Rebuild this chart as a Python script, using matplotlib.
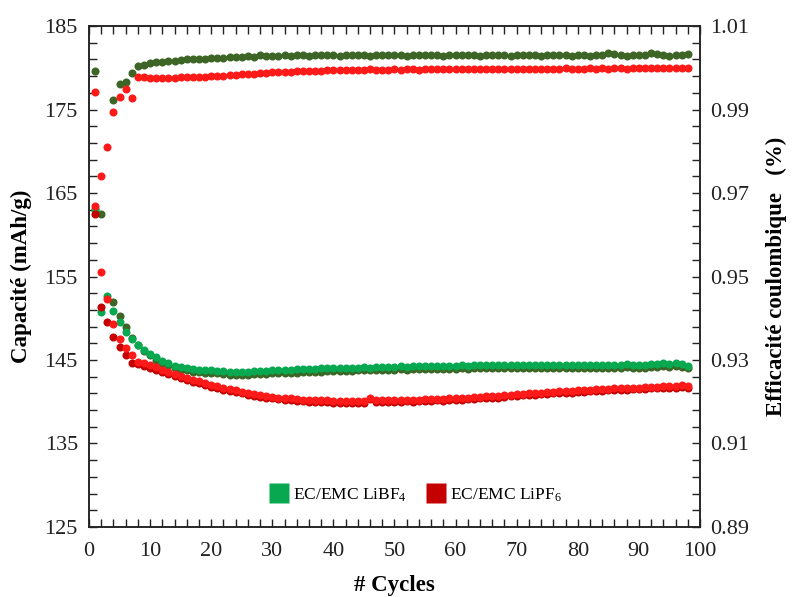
import numpy as np
import matplotlib
matplotlib.use("Agg")
import matplotlib.pyplot as plt
from matplotlib.lines import Line2D
from matplotlib.ticker import MultipleLocator, FixedLocator

plt.rcParams["font.family"] = ["Liberation Serif", "DejaVu Serif"]
plt.rcParams["mathtext.fontset"] = "stix"

nan = np.nan
cycles = list(range(1, 99))

# LiBF4 - capacity (discharge, green) and second capacity series (olive)
cap_bf4 = [
    163.0, 150.7, 152.7, 150.9, 149.5, 148.3, 147.5, 146.8, 146.2, 145.7,
    145.3, 144.9, 144.6, 144.3, 144.15, 144.05, 143.9, 143.85, 143.8, 143.75,
    143.7, 143.65, 143.6, 143.6, 143.55, 143.6, 143.65, 143.7, 143.7, 143.75,
    143.8, 143.8, 143.85, 143.9, 143.9, 143.95, 143.95, 144.0, 144.0, 144.05,
    144.0, 144.05, 144.1, 144.1, 144.15, 144.1, 144.15, 144.2, 144.2, 144.2,
    144.25, 144.2, 144.25, 144.3, 144.25, 144.3, 144.3, 144.25, 144.3, 144.3,
    144.35, 144.3, 144.35, 144.4, 144.35, 144.4, 144.4, 144.35, 144.4, 144.4,
    144.4, 144.45, 144.4, 144.35, 144.4, 144.45, 144.4, 144.4, 144.45, 144.4,
    144.35, 144.4, 144.45, 144.4, 144.35, 144.4, 144.45, 144.5, 144.45, 144.4,
    144.45, 144.5, 144.55, 144.6, 144.55, 144.6, 144.5, 144.3,
]
cap2_bf4 = [
    163.1, 162.5, nan, 152.0, 150.3, 148.9, 147.6, 146.75, 146.1, 145.55,
    145.0, 144.6, 144.35, 144.05, 143.85, 143.75, 143.6, 143.55, 143.5, 143.45,
    143.4, 143.3, 143.25, 143.25, 143.2, 143.2, 143.3, 143.3, 143.35, 143.4,
    143.45, 143.4, 143.5, 143.5, 143.55, 143.55, 143.6, 143.6, 143.65, 143.7,
    143.65, 143.7, 143.7, 143.75, 143.8, 143.75, 143.8, 143.8, 143.85, 143.85,
    143.9, 143.85, 143.9, 143.9, 143.9, 143.95, 143.95, 143.9, 143.95, 143.95,
    144.0, 143.95, 144.0, 144.0, 144.0, 144.05, 144.0, 144.0, 144.05, 144.05,
    144.05, 144.1, 144.05, 144.0, 144.05, 144.1, 144.05, 144.05, 144.1, 144.05,
    144.0, 144.05, 144.1, 144.05, 144.0, 144.05, 144.1, 144.15, 144.1, 144.05,
    144.1, 144.15, 144.2, 144.25, 144.2, 144.25, 144.15, 144.0,
]
eff_bf4 = [
    0.9993, nan, nan, 0.9924, 0.9962, 0.9967, 0.9988, 1.0004, 1.0007, 1.0011,
    1.0014, 1.0014, 1.0017, 1.0017, 1.0019, 1.0020, 1.0022, 1.0021, 1.0022, 1.0023,
    1.0024, 1.0024, 1.0025, 1.0025, 1.0026, 1.0028, 1.0027, 1.0030, 1.0029, 1.0028,
    1.0029, 1.0030, 1.0029, 1.0030, 1.0030, 1.0029, 1.0030, 1.0031, 1.0030, 1.0030,
    1.0029, 1.0030, 1.0031, 1.0030, 1.0030, 1.0029, 1.0030, 1.0030, 1.0031, 1.0030,
    1.0030, 1.0029, 1.0030, 1.0030, 1.0031, 1.0030, 1.0030, 1.0029, 1.0030, 1.0030,
    1.0031, 1.0030, 1.0030, 1.0029, 1.0030, 1.0031, 1.0030, 1.0030, 1.0029, 1.0030,
    1.0030, 1.0031, 1.0030, 1.0029, 1.0030, 1.0030, 1.0031, 1.0030, 1.0029, 1.0030,
    1.0030, 1.0029, 1.0030, 1.0031, 1.0036, 1.0032, 1.0030, 1.0029, 1.0030, 1.0031,
    1.0030, 1.0036, 1.0032, 1.0030, 1.0029, 1.0030, 1.0031, 1.0032,
]

# LiPF6 - capacity (discharge, dark red) and second capacity series (bright red)
cap_pf6 = [
    162.5, 151.4, 149.5, 147.7, 146.6, 145.6, 144.6, 144.5, 144.3, 144.1,
    143.85, 143.55, 143.3, 143.05, 142.8, 142.6, 142.4, 142.2, 142.0, 141.8,
    141.6, 141.45, 141.3, 141.15, 141.0, 140.85, 140.7, 140.6, 140.5, 140.4,
    140.3, 140.25, 140.2, 140.1, 140.05, 140.0, 140.0, 139.95, 139.95, 139.9,
    139.9, 139.85, 139.9, 139.85, 139.9, 140.3, 140.0, 139.95, 140.0, 140.0,
    140.0, 140.05, 140.0, 140.05, 140.1, 140.1, 140.15, 140.1, 140.2, 140.2,
    140.25, 140.3, 140.35, 140.4, 140.45, 140.5, 140.5, 140.6, 140.65, 140.7,
    140.75, 140.8, 140.85, 140.9, 140.95, 141.0, 141.05, 141.1, 141.1, 141.15,
    141.2, 141.25, 141.3, 141.3, 141.35, 141.4, 141.4, 141.45, 141.5, 141.5,
    141.55, 141.6, 141.6, 141.65, 141.7, 141.7, 141.75, 141.7,
]
cap2_pf6 = [
    163.4, 155.5, 152.3, 149.3, 147.5, 146.4, 145.6, 144.8, 144.6, 144.4,
    144.15, 143.85, 143.6, 143.35, 143.1, 142.9, 142.65, 142.45, 142.25, 142.05,
    141.85, 141.7, 141.55, 141.4, 141.2, 141.05, 140.9, 140.8, 140.7, 140.6,
    140.5, 140.45, 140.4, 140.3, 140.25, 140.2, 140.2, 140.15, 140.15, 140.1,
    140.1, 140.05, 140.1, 140.05, 140.1, 140.5, 140.2, 140.15, 140.2, 140.2,
    140.2, 140.25, 140.2, 140.25, 140.3, 140.3, 140.35, 140.3, 140.4, 140.4,
    140.45, 140.5, 140.55, 140.6, 140.65, 140.7, 140.7, 140.8, 140.85, 140.9,
    140.95, 141.0, 141.05, 141.1, 141.15, 141.2, 141.25, 141.3, 141.3, 141.35,
    141.4, 141.45, 141.5, 141.5, 141.55, 141.6, 141.6, 141.65, 141.7, 141.7,
    141.75, 141.8, 141.8, 141.85, 141.9, 141.9, 141.95, 141.9,
]
eff_pf6 = [
    0.9943, 0.9740, 0.9810, 0.9895, 0.9929, 0.9948, 0.9927, 0.9977, 0.9977, 0.9976,
    0.9975, 0.9975, 0.9976, 0.9976, 0.9977, 0.9977, 0.9978, 0.9978, 0.9979, 0.9980,
    0.9980, 0.9981, 0.9982, 0.9983, 0.9984, 0.9985, 0.9986, 0.9987, 0.9988, 0.9989,
    0.9990, 0.9991, 0.9991, 0.9992, 0.9992, 0.9993, 0.9993, 0.9993, 0.9994, 0.9994,
    0.9994, 0.9995, 0.9994, 0.9995, 0.9995, 0.9997, 0.9995, 0.9995, 0.9995, 0.9996,
    0.9995, 0.9996, 0.9996, 0.9995, 0.9996, 0.9996, 0.9996, 0.9997, 0.9996, 0.9996,
    0.9997, 0.9996, 0.9997, 0.9997, 0.9997, 0.9998, 0.9997, 0.9997, 0.9998, 0.9997,
    0.9998, 0.9997, 0.9998, 0.9998, 0.9997, 0.9998, 0.9998, 0.9999, 0.9998, 0.9998,
    0.9998, 0.9999, 0.9998, 0.9999, 0.9998, 0.9999, 0.9999, 0.9998, 0.9999, 0.9999,
    0.9999, 0.9999, 1.0000, 0.9999, 0.9999, 1.0000, 0.9999, 1.0000,
]

legend_labels = [r"EC/EMC LiBF$_\mathregular{4}$", r"EC/EMC LiPF$_\mathregular{6}$"]

cap_ticks = [125, 135, 145, 155, 165, 175, 185]
eff_ticks = [0.89, 0.91, 0.93, 0.95, 0.97, 0.99, 1.01]

GREEN = "#07a84f"
OLIVE = "#3d6526"
DARK_RED = "#c40000"
RED = "#ff1a1a"

fig = plt.figure(figsize=(7.92, 5.97), dpi=100)
ax = fig.add_axes([0.1124, 0.1173, 0.7714, 0.8391])
ax2 = ax.twinx()

ms = 5.8
ax.plot(cycles, cap2_bf4, "o", color=OLIVE, ms=ms, mec="none", zorder=2)
ax.plot(cycles, cap_bf4, "o", color=GREEN, ms=ms, mec="none", zorder=3)
ax.plot(cycles, cap_pf6, "o", color=DARK_RED, ms=ms, mec="none", zorder=4)
ax.plot(cycles, cap2_pf6, "o", color=RED, ms=ms, mec="none", zorder=5)
ax2.plot(cycles, eff_bf4, "o", color=OLIVE, ms=ms, mec="none")
ax2.plot(cycles, eff_pf6, "o", color=RED, ms=ms, mec="none")

ax.set_xlim(0, 100)
ax.set_ylim(125, 185)
ax2.set_ylim(0.89, 1.01)

ax.xaxis.set_major_locator(MultipleLocator(10))
ax.xaxis.set_minor_locator(MultipleLocator(2))
ax.yaxis.set_major_locator(FixedLocator(cap_ticks))
ax.yaxis.set_minor_locator(FixedLocator(np.arange(125, 186, 2)))
ax2.yaxis.set_major_locator(FixedLocator(eff_ticks))
ax2.yaxis.set_minor_locator(FixedLocator(np.linspace(0.89, 1.01, 31)))

ax.tick_params(axis="both", which="both", direction="in", length=6, width=1.0,
               labelsize=16, colors="#222222")
ax.tick_params(axis="x", which="both", top=True, pad=11)
ax.tick_params(axis="y", which="both", left=True, right=False, pad=8)
ax2.tick_params(axis="y", which="both", direction="in", length=6, width=1.0,
                labelsize=16, pad=7, colors="#222222")
ax2.yaxis.set_major_formatter(plt.FuncFormatter(lambda v, p: f"{v:.2f}"))

for a in (ax, ax2):
    for sp in a.spines.values():
        sp.set_linewidth(1.1)
        sp.set_color("#222222")

ax.set_xlabel("# Cycles", fontsize=16.5, fontweight="bold", labelpad=10)
ax.set_ylabel("Capacité (mAh/g)", fontsize=16.5, fontweight="bold", labelpad=9)
ax2.set_ylabel("Efficacité coulombique   (%)", fontsize=16.5, fontweight="bold", labelpad=12)

handles = [
    Line2D([], [], ls="none", marker="s", ms=14, color=GREEN, mec="none"),
    Line2D([], [], ls="none", marker="s", ms=14, color=DARK_RED, mec="none"),
]
ax.legend(handles, legend_labels, loc="center", bbox_to_anchor=(0.535, 0.064), ncol=2,
          frameon=False, fontsize=12.5, handletextpad=0.3, columnspacing=1.2,
          handlelength=1.0)

fig.savefig("out.png", dpi=100)
